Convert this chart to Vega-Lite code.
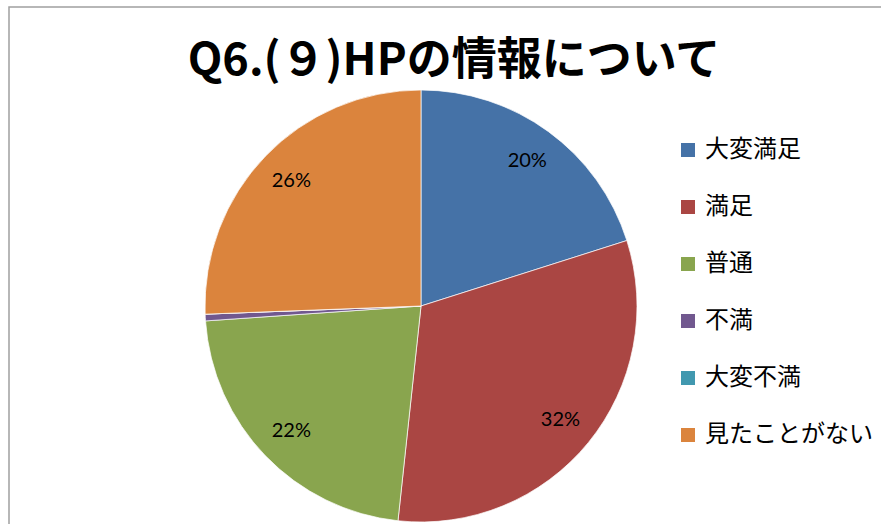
{
  "$schema": "https://vega.github.io/schema/vega-lite/v6.json",
  "autosize": {"type": "none"},
  "width": 900,
  "height": 600,
  "padding": {"left": 9, "top": 7, "right": 0, "bottom": 0},
  "background": "white",
  "view": {"stroke": "#A0A0A0", "strokeWidth": 1.5},
  "title": {
    "text": "Q6.(９)HPの情報について",
    "font": "Noto Sans CJK JP",
    "fontSize": 45,
    "fontWeight": "bold",
    "color": "#000000",
    "anchor": "middle",
    "offset": -77,
    "dx": -5
  },
  "data": {
    "values": [
      {"rank": 1, "category": "大変満足", "value": 0.201},
      {"rank": 2, "category": "満足", "value": 0.316},
      {"rank": 3, "category": "普通", "value": 0.222},
      {"rank": 4, "category": "不満", "value": 0.005},
      {"rank": 5, "category": "大変不満", "value": 0.0},
      {"rank": 6, "category": "見たことがない", "value": 0.256}
    ]
  },
  "encoding": {
    "theta": {"field": "value", "type": "quantitative", "stack": true},
    "order": {"field": "rank", "type": "quantitative"},
    "color": {
      "field": "category",
      "type": "nominal",
      "sort": ["大変満足", "満足", "普通", "不満", "大変不満", "見たことがない"],
      "scale": {
        "domain": ["大変満足", "満足", "普通", "不満", "大変不満", "見たことがない"],
        "range": ["#4572A7", "#AA4643", "#89A54E", "#71588F", "#4198AF", "#DB843D"]
      },
      "legend": {
        "title": null,
        "orient": "none",
        "legendX": 667,
        "legendY": 131,
        "symbolType": "square",
        "symbolSize": 196,
        "symbolStrokeWidth": 0,
        "labelFont": "Noto Sans CJK JP",
        "labelFontSize": 24,
        "labelLimit": 400,
        "labelColor": "#000000",
        "labelOffset": 5,
        "rowPadding": 33,
        "padding": 0
      }
    }
  },
  "layer": [
    {
      "mark": {"type": "arc", "outerRadius": 216, "stroke": "white", "strokeWidth": 0.7, "xOffset": -38, "yOffset": -1}
    },
    {
      "mark": {"type": "text", "radius": 180, "font": "Lato", "fontSize": 20, "color": "#000000", "xOffset": -38, "yOffset": -1},
      "encoding": {
        "text": {
          "condition": {"test": "datum.value < 0.02", "value": ""},
          "field": "value",
          "type": "quantitative",
          "format": ".0%"
        },
        "color": {"value": "#000000"}
      }
    }
  ]
}
